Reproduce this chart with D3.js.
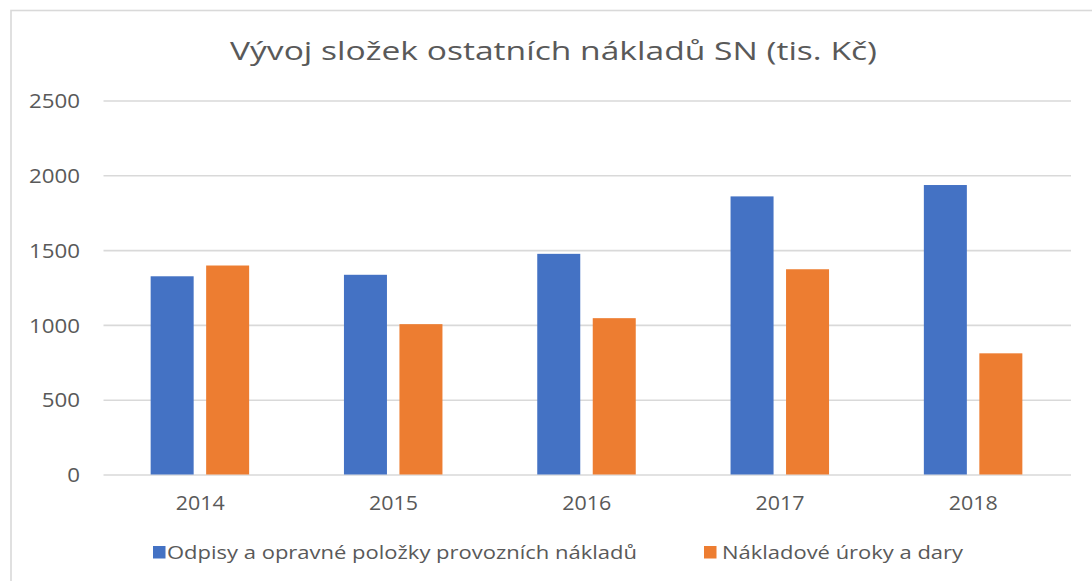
<!DOCTYPE html>
<html>
<head>
<meta charset="utf-8">
<script src="https://cdn.jsdelivr.net/npm/d3@7"></script>
<style>
  html, body { margin: 0; padding: 0; background: #fff; }
  svg { display: block; }
  text { font-family: "Open Sans", "DejaVu Sans", sans-serif; fill: #595959; }
</style>
</head>
<body>
<svg id="chart" width="1092" height="581"></svg>
<script>
const title = "Vývoj složek ostatních nákladů SN (tis. Kč)";
const years = ["2014", "2015", "2016", "2017", "2018"];
const seriesNames = ["Odpisy a opravné položky provozních nákladů", "Nákladové úroky a dary"];
const odpisy = [1325, 1335, 1475, 1859, 1935];
const uroky = [1397, 1005, 1045, 1372, 810];
const yTicks = [0, 500, 1000, 1500, 2000, 2500];
const colors = ["#4472C4", "#ED7D31"];

const svg = d3.select("#chart");
const W = 1092, H = 581;

// chart frame (extends beyond viewport right/bottom)
svg.append("rect").attr("x", 11).attr("y", 10.5).attr("width", 1200).attr("height", 700)
  .attr("fill", "#fff").attr("stroke", "#d9d9d9").attr("stroke-width", 1.6);

const plot = { left: 103.5, right: 1070, top: 100.5, bottom: 474.5 };

const y = d3.scaleLinear().domain([0, 2500]).range([plot.bottom, plot.top]);
const x0 = d3.scaleBand().domain(years).range([plot.left, plot.right]).padding(0);
const bw = x0.bandwidth();
const x1 = d3.scaleBand().domain([0, 1]).range([bw / 2 - 49.5, bw / 2 + 49]).paddingInner(0.225).paddingOuter(0);

function fitText(sel, target) {
  sel.each(function () {
    const n = this.getComputedTextLength();
    if (n > 0) d3.select(this).attr("textLength", n * target).attr("lengthAdjust", "spacingAndGlyphs");
  });
}

// gridlines
const yAxis = d3.axisLeft(y).tickValues(yTicks).tickSize(0).tickPadding(0).tickFormat(d3.format("d"));
const gy = svg.append("g").attr("transform", `translate(${plot.left},0)`).call(yAxis);
gy.select(".domain").remove();
gy.selectAll(".tick line").attr("x2", plot.right - plot.left + 1).attr("stroke", "#d9d9d9").attr("stroke-width", 1.6);
gy.selectAll(".tick text")
  .attr("x", 80 - plot.left).attr("dy", "0.36em")
  .style("font-size", "20px").style("font-family", "'Open Sans', sans-serif").attr("fill", "#595959");

// scale tick labels horizontally to match reference
(function () {
  let natural = 0;
  gy.selectAll(".tick text").each(function (d) { if (d === 2500) natural = this.getComputedTextLength(); });
  const k = natural > 0 ? 51 / natural : 1;
  fitText(gy.selectAll(".tick text"), k);
})();

// bars
const groups = svg.append("g").selectAll("g").data(years).join("g")
  .attr("transform", d => `translate(${x0(d)},0)`);
groups.selectAll("rect").data((d, i) => [odpisy[i], uroky[i]]).join("rect")
  .attr("x", (d, j) => x1(j))
  .attr("width", x1.bandwidth())
  .attr("y", d => y(d))
  .attr("height", d => y(0) - y(d))
  .attr("fill", (d, j) => colors[j]);

// x axis labels
const xAxis = d3.axisBottom(x0).tickSize(0).tickPadding(0);
const gx = svg.append("g").attr("transform", `translate(0,${plot.bottom})`).call(xAxis);
gx.select(".domain").remove();
gx.selectAll(".tick text").attr("y", 35.5).attr("dy", 0)
  .style("font-size", "20px").style("font-family", "'Open Sans', sans-serif").attr("fill", "#595959");
(function () {
  let natural = 0;
  gx.selectAll(".tick text").each(function () { natural = Math.max(natural, this.getComputedTextLength()); });
  fitText(gx.selectAll(".tick text"), natural > 0 ? 49 / natural : 1);
})();

// title
const t = svg.append("text").attr("x", 553.5).attr("y", 59.5).attr("text-anchor", "middle")
  .style("font-size", "26px").text(title);
(function () {
  const n = t.node().getComputedTextLength();
  if (n > 0) t.attr("textLength", 647).attr("lengthAdjust", "spacingAndGlyphs");
})();

// legend
const legend = [
  { name: seriesNames[0], color: colors[0], sx: 153, tx: 167, tw: 470 },
  { name: seriesNames[1], color: colors[1], sx: 704, tx: 722, tw: 241 }
];
const lg = svg.append("g");
legend.forEach(l => {
  lg.append("rect").attr("x", l.sx).attr("y", 546).attr("width", 12.5).attr("height", 12.5).attr("fill", l.color);
  const tt = lg.append("text").attr("x", l.tx).attr("y", 559).style("font-size", "19px").text(l.name);
  if (tt.node().getComputedTextLength() > 0) tt.attr("textLength", l.tw).attr("lengthAdjust", "spacingAndGlyphs");
});
</script>
</body>
</html>
